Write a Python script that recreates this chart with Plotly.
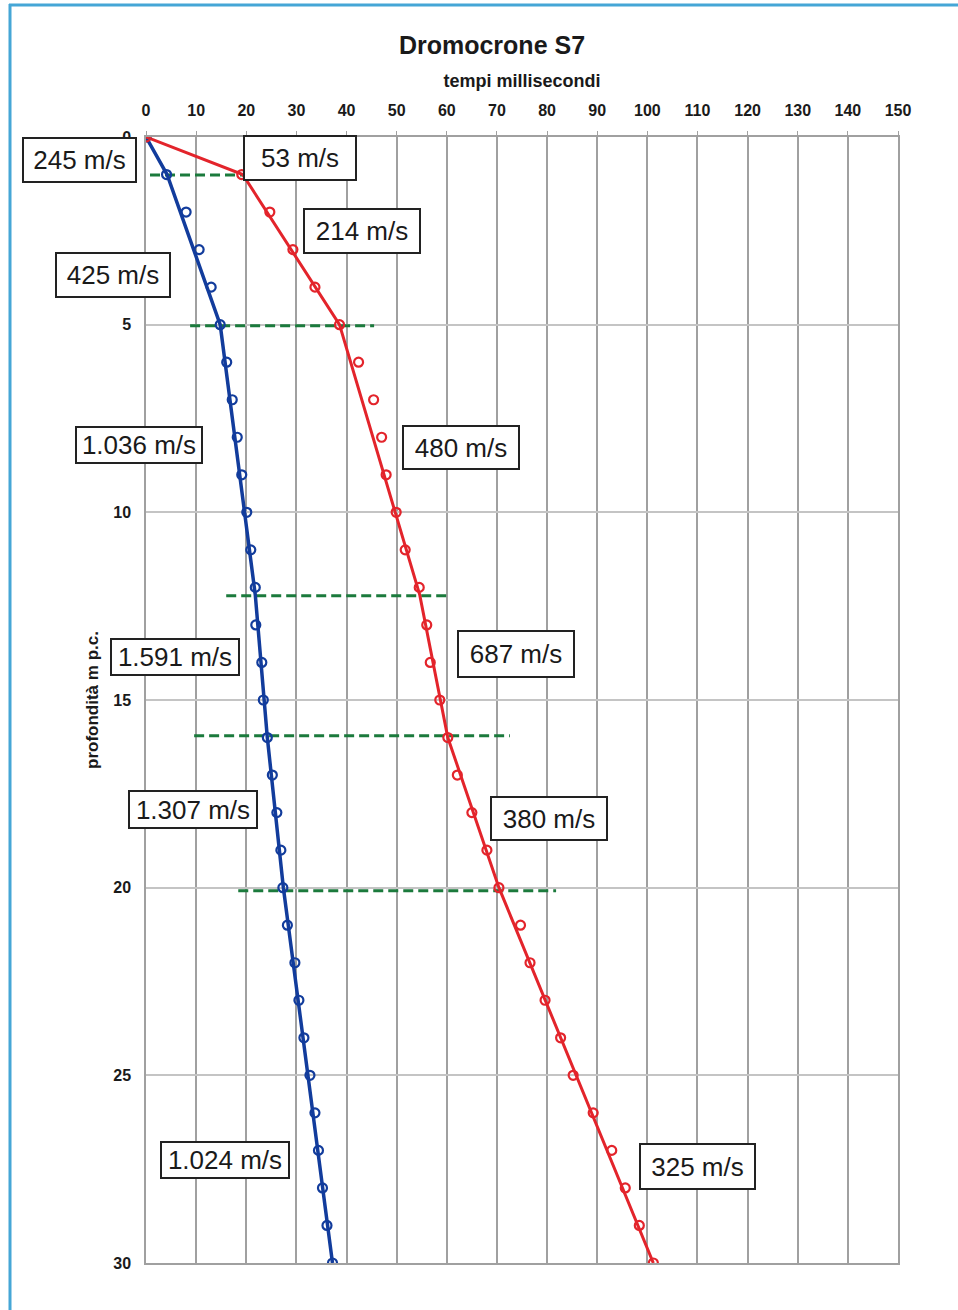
import plotly.graph_objects as go

# ---------------- data ----------------
depth = list(range(0, 31))  # m
blue_t = [0, 4.1, 8.0, 10.6, 13.0, 14.8, 16.1, 17.2, 18.2, 19.1, 20.1, 20.9, 21.8, 21.9, 23.1,
          23.4, 24.2, 25.2, 26.1, 26.9, 27.3, 28.2, 29.7, 30.5, 31.5, 32.7, 33.7, 34.4, 35.2,
          36.1, 37.2]
red_t = [0, 19.1, 24.7, 29.3, 33.7, 38.6, 42.4, 45.4, 47.0, 47.9, 49.9, 51.7, 54.5, 56.0, 56.7,
         58.6, 60.2, 62.1, 65.0, 68.0, 70.4, 74.7, 76.6, 79.6, 82.7, 85.2, 89.2, 92.9, 95.6,
         98.4, 101.2]

# fitted layer lines (break depths)
fit_depth = [0, 1.0, 5.0, 12.2, 16.0, 20.0, 30.0]
blue_fit_t = [0, 4.2, 14.8, 21.8, 24.2, 27.4, 37.2]
red_fit_t = [0, 19.3, 38.6, 54.6, 60.2, 70.4, 101.2]

# layer boundaries (dashed green): depth, start time, end time
bound_depth = [1.01, 5.03, 12.22, 15.95, 20.08]
bound_t0 = [0.8, 8.8, 16.0, 9.6, 18.4]
bound_t1 = [26.1, 45.5, 60.0, 72.6, 81.8]

# velocity labels
vel_text = ["245 m/s", "53 m/s", "214 m/s", "425 m/s", "1.036 m/s", "480 m/s",
            "1.591 m/s", "687 m/s", "1.307 m/s", "380 m/s", "1.024 m/s", "325 m/s"]
# label centres (time ms, depth m) and box sizes (px)
vel_x = [-13.2, 30.7, 43.1, -6.6, -1.4, 62.8, 5.8, 73.8, 9.4, 80.4, 15.8, 110.1]
vel_y = [0.61, 0.56, 2.51, 3.68, 8.21, 8.26, 13.86, 13.78, 17.93, 18.15, 27.26, 27.42]
vel_w = [115, 114, 118, 116, 128, 118, 130, 118, 130, 118, 130, 117]
vel_h = [46, 46, 46, 46, 38, 45, 38, 48, 39, 45, 38, 47]

# ---------------- layout geometry ----------------
W, H = 958, 1310
ML, MR, MT, MB = 146, 60, 137, 47
PW, PH = W - ML - MR, H - MT - MB
XMAX, YMAX = 150, 30

def px_x(px):
    return (px - ML) / PW

def px_y(py):
    return 1 - (py - MT) / PH

FONT = "Liberation Sans, Arial, sans-serif"
BLUE = "#123c9c"
RED = "#e3242b"
GREEN = "#1b7a3c"

fig = go.Figure()

# boundary dashed lines
for d, t0, t1 in zip(bound_depth, bound_t0, bound_t1):
    fig.add_trace(go.Scatter(x=[t0, t1], y=[d, d], mode="lines",
                             line=dict(color=GREEN, width=3, dash="10px,5px"),
                             showlegend=False, hoverinfo="skip"))

# fitted lines
fig.add_trace(go.Scatter(x=blue_fit_t, y=fit_depth, mode="lines",
                         line=dict(color=BLUE, width=3.5), showlegend=False))
fig.add_trace(go.Scatter(x=red_fit_t, y=fit_depth, mode="lines",
                         line=dict(color=RED, width=3), showlegend=False))
# measured points
fig.add_trace(go.Scatter(x=blue_t, y=depth, mode="markers",
                         marker=dict(symbol="circle-open", size=9, color=BLUE,
                                     line=dict(width=2.2)), showlegend=False))
fig.add_trace(go.Scatter(x=red_t, y=depth, mode="markers",
                         marker=dict(symbol="circle-open", size=9, color=RED,
                                     line=dict(width=2.2)), showlegend=False))

annotations = []
for t, x, y, w, h in zip(vel_text, vel_x, vel_y, vel_w, vel_h):
    annotations.append(dict(
        text=t, xref="paper", yref="paper", x=x / XMAX, y=1 - y / YMAX,
        xanchor="center", yanchor="middle", showarrow=False,
        width=w - 4, height=h - 4, borderpad=0, borderwidth=2,
        bordercolor="#222222", bgcolor="white",
        font=dict(family=FONT, size=26, color="#1a1a1a"), align="center"))

shapes = [
    dict(type="line", xref="paper", yref="paper", x0=px_x(9), x1=px_x(W), y0=px_y(5), y1=px_y(5),
         line=dict(color="#45a6d6", width=3)),
    dict(type="line", xref="paper", yref="paper", x0=px_x(10), x1=px_x(10), y0=px_y(4), y1=px_y(H),
         line=dict(color="#45a6d6", width=3)),
]

fig.update_layout(
    width=W, height=H,
    margin=dict(l=ML, r=MR, t=MT, b=MB),
    paper_bgcolor="white", plot_bgcolor="white",
    title=dict(text="Dromocrone S7", x=px_x(492), xref="paper", xanchor="center",
               y=1 - 45 / H, yref="container", yanchor="middle",
               font=dict(family=FONT, size=25, color="#1a1a1a", weight="bold")),
    xaxis=dict(range=[0, XMAX], side="top", dtick=10, tick0=0,
               showgrid=True, gridcolor="#a0a0a0", gridwidth=1.5,
               showline=True, linecolor="#a0a0a0", linewidth=1.5, mirror=True,
               ticks="outside", ticklen=4, tickcolor="#a0a0a0",
               ticklabelstandoff=9,
               tickfont=dict(family=FONT, size=16, color="#1a1a1a", weight="bold"),
               title=dict(text="tempi millisecondi", standoff=10,
                          font=dict(family=FONT, size=18, color="#1a1a1a", weight="bold")),
               zeroline=False),
    yaxis=dict(range=[YMAX, 0], dtick=5, tick0=0,
               showgrid=True, gridcolor="#c4c4c4", gridwidth=1.5,
               showline=True, linecolor="#a0a0a0", linewidth=1.5, mirror=True,
               ticks="", ticklabelstandoff=10,
               tickfont=dict(family=FONT, size=16, color="#1a1a1a", weight="bold"),
               title=dict(text="profondità m p.c.", standoff=10,
                          font=dict(family=FONT, size=17, color="#1a1a1a", weight="bold")),
               zeroline=False),
    annotations=annotations,
    shapes=shapes,
    showlegend=False,
)

fig.write_html("out.html")
